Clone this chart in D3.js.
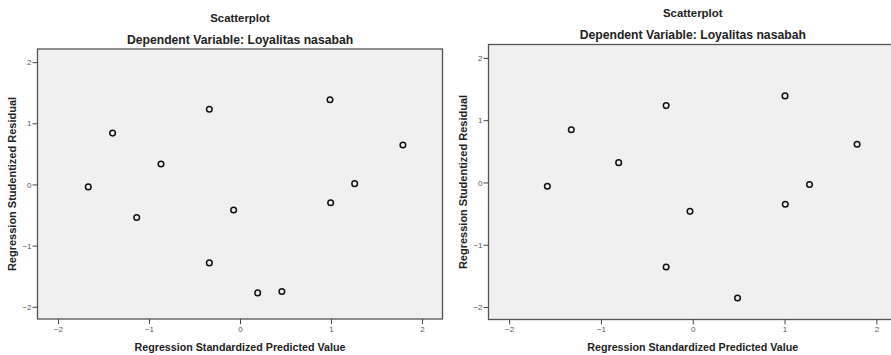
<!DOCTYPE html>
<html>
<head>
<meta charset="utf-8">
<script src="https://cdn.jsdelivr.net/npm/d3@7"></script>
<style>
  body { margin: 0; background: #fff; }
  svg { display: block; font-family: "Liberation Sans", Arial, sans-serif; }
</style>
</head>
<body>
<svg id="chart" width="891" height="355"></svg>
<script>
// panel 1 (left) - predicted vs studentized residual
var leftX = [-1.667, -1.40, -1.135, -0.868, -0.07, 0.996, 1.26, 1.79, -0.337, 0.989, -0.337, 0.194, 0.46];
var leftY = [-0.04, 0.84, -0.54, 0.335, -0.417, -0.30, 0.013, 0.645, 1.229, 1.386, -1.283, -1.773, -1.75];

// panel 2 (right)
var rightX = [-0.29, 1.005, -1.584, -1.323, -0.807, -0.03, 1.008, 1.272, 1.79, -0.29, 0.488];
var rightY = [1.234, 1.39, -0.06, 0.846, 0.318, -0.464, -0.35, -0.032, 0.614, -1.358, -1.854];

var tickVals = [-2, -1, 0, 1, 2];
var titleText = "Scatterplot";
var subtitleText = "Dependent Variable: Loyalitas nasabah";
var xLabel = "Regression Standardized Predicted Value";
var yLabel = "Regression Studentized Residual";

var svg = d3.select("#chart");

function drawPanel(cfg, xs, ys) {
  var g = svg.append("g");
  var w = cfg.right - cfg.left, h = cfg.bottom - cfg.top;

  var x = d3.scaleLinear().domain([-2.225, 2.225]).range([cfg.left, cfg.right]);
  var y = d3.scaleLinear().domain([-2.2, 2.215]).range([cfg.bottom, cfg.top]);

  g.append("rect")
    .attr("x", cfg.left).attr("y", cfg.top)
    .attr("width", w).attr("height", h)
    .attr("fill", "#f0f0f0")
    .attr("stroke", "#555").attr("stroke-width", 1.3);

  var xAxis = g.append("g")
    .attr("transform", "translate(0," + cfg.bottom + ")")
    .call(d3.axisBottom(x).tickValues(tickVals).tickSize(5).tickPadding(2).tickFormat(d3.format("d")));
  var yAxis = g.append("g")
    .attr("transform", "translate(" + cfg.left + ",0)")
    .call(d3.axisLeft(y).tickValues(tickVals).tickSize(5).tickPadding(1).tickFormat(d3.format("d")));

  [xAxis, yAxis].forEach(function(a) {
    a.select(".domain").remove();
    a.selectAll("line").attr("stroke", "#444");
    a.selectAll("text").attr("fill", "#555").style("font-size", "8px");
  });

  var pts = xs.map(function(v, i) { return {x: v, y: ys[i]}; });
  g.selectAll(".pt")
    .data(pts)
    .enter()
    .append("circle")
    .attr("class", "pt")
    .attr("cx", function(d) { return x(d.x); })
    .attr("cy", function(d) { return y(d.y); })
    .attr("r", 2.8)
    .attr("fill", "none")
    .attr("stroke", "#111")
    .attr("stroke-width", 1.5);

  var cx = x(0);
  g.append("text")
    .attr("x", cx).attr("y", cfg.titleY)
    .attr("text-anchor", "middle")
    .style("font-size", "11.4px").style("font-weight", "bold").attr("fill", "#222")
    .text(titleText);
  g.append("text")
    .attr("x", cx).attr("y", cfg.titleY + 22)
    .attr("text-anchor", "middle")
    .style("font-size", "12.2px").style("font-weight", "bold").attr("fill", "#222")
    .text(subtitleText);

  g.append("text")
    .attr("x", cx).attr("y", 351)
    .attr("text-anchor", "middle")
    .style("font-size", "10.7px").style("font-weight", "bold").attr("fill", "#222")
    .text(xLabel);

  g.append("text")
    .attr("transform", "translate(" + cfg.yLabelX + "," + ((cfg.top + cfg.bottom) / 2) + ") rotate(-90)")
    .attr("text-anchor", "middle")
    .style("font-size", "11px").style("font-weight", "bold").attr("fill", "#222")
    .text(yLabel);
}

drawPanel({left: 37.5, right: 442.5, top: 49, bottom: 319, titleY: 22, yLabelX: 16}, leftX, leftY);
drawPanel({left: 488.5, right: 897, top: 44.5, bottom: 319.5, titleY: 17, yLabelX: 467}, rightX, rightY);
</script>
</body>
</html>
